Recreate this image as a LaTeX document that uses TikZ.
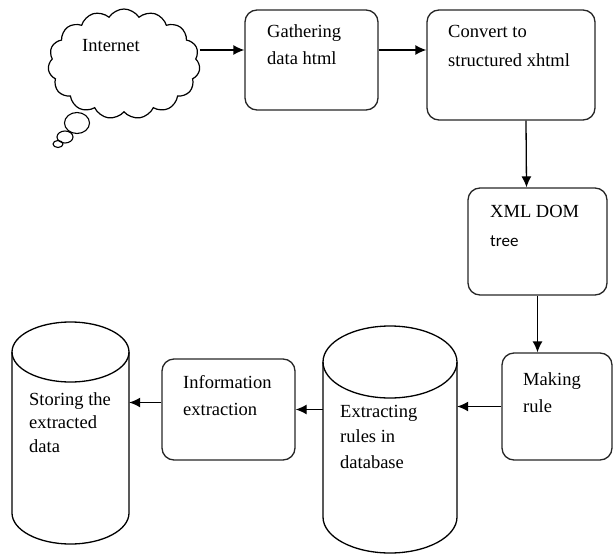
\documentclass[tikz,border=0pt]{standalone}
\usepackage{fontspec}
\setmainfont{Liberation Serif}
\newfontfamily\treefont{Carlito}
\usetikzlibrary{shapes.symbols,arrows.meta,calc}
\begin{document}
\begin{tikzpicture}[x=1pt,y=1pt,
  box/.style={draw=black!85,line width=1.3pt,rounded corners=12pt,inner sep=0pt},
  txt/.style={inner sep=0pt,align=left,anchor=north west,font=\fontsize{18.5}{27}\selectfont},
  arr/.style={line width=1.3pt,-{Latex[length=11pt,width=10pt]}},
  cyl/.style={draw=black,line width=1.3pt}]
\useasboundingbox (0,0) rectangle (613,-554);
% cloud
\node[cloud,draw,line width=1.2pt,cloud puffs=15,cloud puff arc=115,aspect=1.4,
  minimum width=152pt,minimum height=110pt,inner sep=0pt] (cloud) at (124,-64) {};
\draw[line width=1.1pt] (77,-123) ellipse [x radius=12.5pt,y radius=10.5pt];
\draw[line width=1.1pt] (65,-137) ellipse [x radius=8pt,y radius=6pt];
\draw[line width=1.1pt] (58,-144) ellipse [x radius=5pt,y radius=3.5pt];
\node[txt] (tinternet) at (82,-39) {Internet};
% boxes
\node[box,minimum width=133pt,minimum height=100pt] (gath) at (311.5,-60) {};
\node[txt] (tgath) at (267,-24) {Gathering\\data html};
\node[box,minimum width=168pt,minimum height=110pt] (conv) at (511,-65) {};
\node[txt,font=\fontsize{18.5}{29}\selectfont] (tconv) at (448,-25) {Convert to\\structured xhtml};
\node[box,minimum width=139pt,minimum height=107pt] (xml) at (537.5,-241.5) {};
\node[txt] (txml) at (490,-205) {XML DOM};
\node[inner sep=0pt,anchor=base west,font=\treefont\fontsize{17}{20}\selectfont] (ttree) at (490,-246) {tree};
\node[box,minimum width=110pt,minimum height=107pt] (make) at (557,-406.5) {};
\node[txt] (tmake) at (523,-372) {Making\\rule};
\node[box,minimum width=133pt,minimum height=101pt] (info) at (228.5,-409.5) {};
\node[txt] (tinfo) at (183,-375) {Information\\extraction};
% cylinders
\node[inner sep=0pt,minimum width=134pt,minimum height=227pt] (cyl1) at (390,-439.5) {};
\draw[cyl] (390,-362) ellipse [x radius=67pt,y radius=36pt];
\draw[cyl] (323,-362) -- (323,-517) arc[start angle=180,end angle=360,x radius=67pt,y radius=36pt] -- (457,-362);
\node[txt,font=\fontsize{18.5}{25.5}\selectfont] (tcyl1) at (340,-405) {Extracting\\rules in\\database};
\node[inner sep=0pt,minimum width=117pt,minimum height=222pt] (cyl2) at (70.5,-433) {};
\draw[cyl] (70.5,-352) ellipse [x radius=58.5pt,y radius=30pt];
\draw[cyl] (12,-352) -- (12,-513) arc[start angle=180,end angle=360,x radius=58.5pt,y radius=31pt] -- (129,-352);
\node[txt,font=\fontsize{18.5}{23.5}\selectfont] (tcyl2) at (29,-392) {Storing the\\extracted\\data};
% connectors
\draw[arr] (cloud.east |- 0,-50) -- (gath.west |- 0,-50);
\draw[arr] (gath.east |- 0,-50) -- (conv.west |- 0,-50);
\draw[arr] ([xshift=15pt]conv.south) -- ([xshift=-11pt]xml.north);
\draw[arr] (xml.south) -- (xml.south |- make.north);
\draw[arr] (make.west) -- (make.west -| cyl1.east);
\draw[arr] (cyl1.west |- info.east) -- (info.east);
\draw[arr] ([yshift=7pt]info.west) -- ([yshift=7pt]info.west -| cyl2.east);
\end{tikzpicture}
\end{document}
